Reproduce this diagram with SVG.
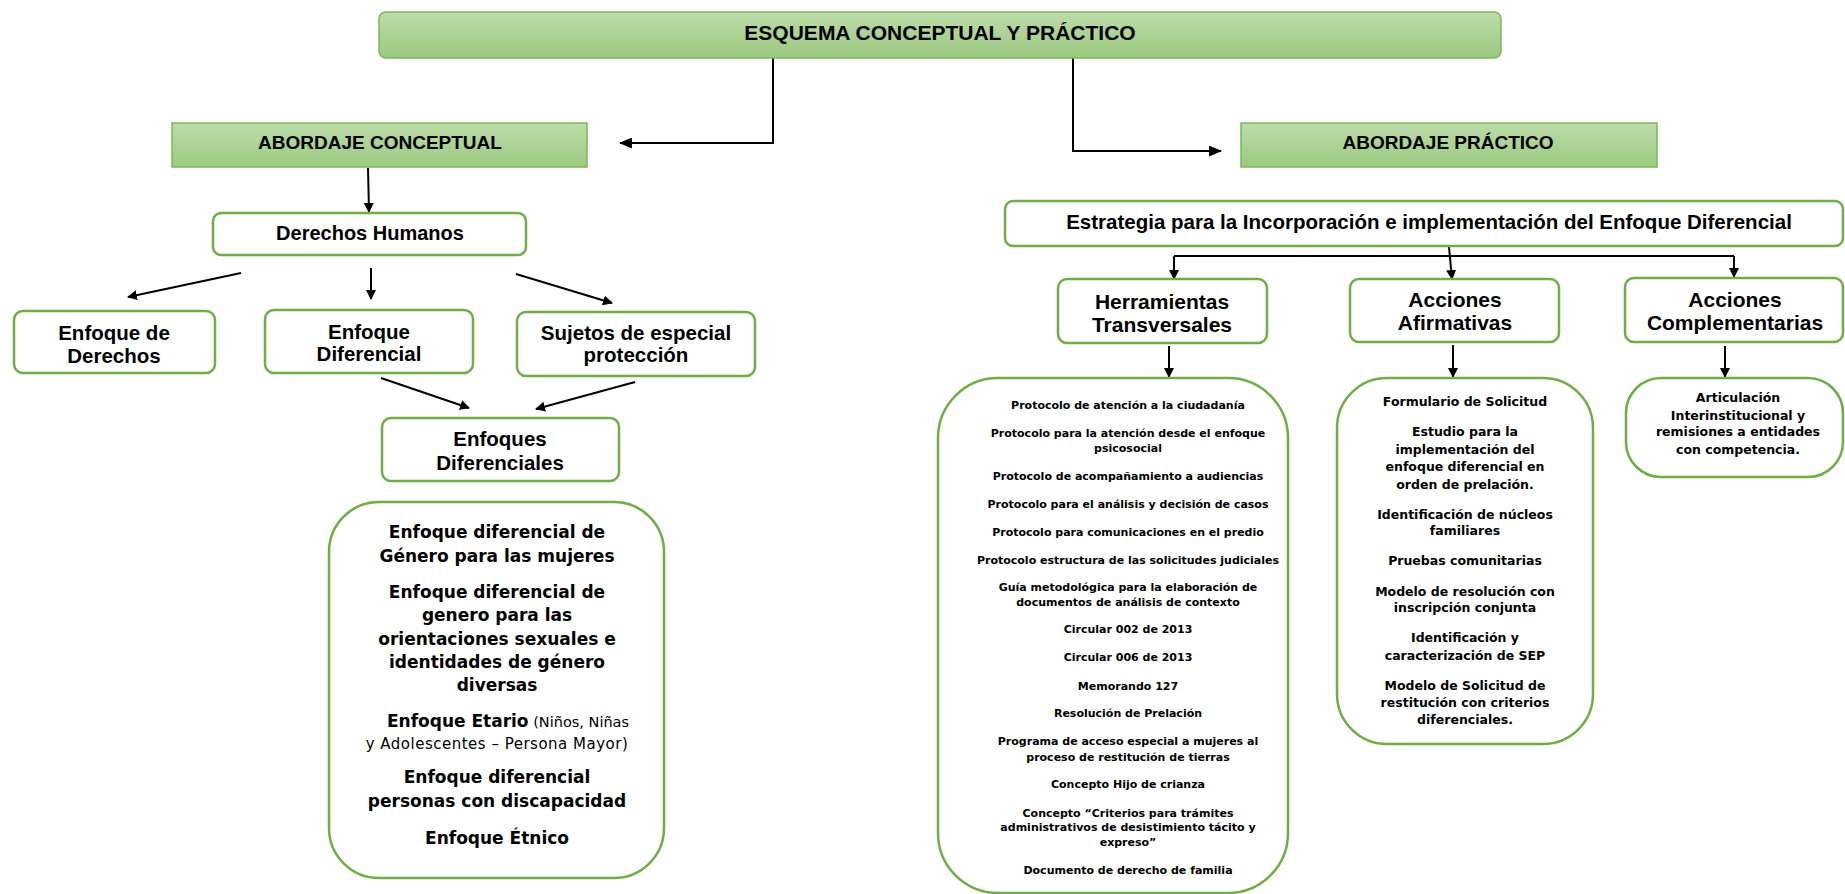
<svg xmlns="http://www.w3.org/2000/svg" width="1845" height="894" viewBox="0 0 1845 894">
<defs>
<linearGradient id="hg" x1="0" y1="0" x2="0" y2="1">
<stop offset="0" stop-color="#bedcaa"/>
<stop offset="1" stop-color="#9bc97f"/>
</linearGradient>
<marker id="ah" viewBox="0 0 10 10" refX="9" refY="5" markerWidth="10" markerHeight="10" markerUnits="userSpaceOnUse" orient="auto">
<path d="M0,0 L10,5 L0,10 z" fill="#000"/>
</marker>
<marker id="ahl" viewBox="0 0 12 10" refX="11" refY="5" markerWidth="13" markerHeight="11" markerUnits="userSpaceOnUse" orient="auto">
<path d="M0,0 L12,5 L0,10 z" fill="#000"/>
</marker>
</defs>
<style>
.hdr{fill:url(#hg);stroke:#7ab858;stroke-width:1.5}
.box{fill:#fff;stroke:#70ad47;stroke-width:2.5}
.h{font-family:"Liberation Sans",Arial,sans-serif;font-weight:bold;fill:#000;text-anchor:middle}
.b{font-family:"DejaVu Sans",Verdana,sans-serif;font-weight:bold;fill:#000;text-anchor:middle}
.r{font-family:"DejaVu Sans",Verdana,sans-serif;font-weight:normal}
.c{fill:none;stroke:#000;stroke-width:2}
.ca{fill:none;stroke:#000;stroke-width:2;marker-end:url(#ah)}
.cl{fill:none;stroke:#000;stroke-width:2;marker-end:url(#ahl)}
</style>
<rect width="1845" height="894" fill="#fff"/>

<g id="connectors">
<polyline class="cl" points="773,58 773,143 620,143"/>
<polyline class="cl" points="1073,58 1073,151 1221,151"/>
<line class="ca" x1="368" y1="168" x2="369" y2="212"/>
<line class="ca" x1="241" y1="273" x2="128" y2="297"/>
<line class="ca" x1="371" y1="268" x2="371" y2="299"/>
<line class="ca" x1="516" y1="274" x2="612" y2="303"/>
<line class="ca" x1="381" y1="378" x2="469" y2="408"/>
<line class="ca" x1="635" y1="382" x2="536" y2="409"/>
<line class="ca" x1="1449" y1="247" x2="1452" y2="279"/>
<polyline class="c" points="1174,256 1734,256"/>
<line class="ca" x1="1174" y1="256" x2="1174" y2="279"/>
<line class="ca" x1="1734" y1="256" x2="1734" y2="277"/>
<line class="ca" x1="1169" y1="346" x2="1169" y2="377"/>
<line class="ca" x1="1453" y1="345" x2="1453" y2="377"/>
<line class="ca" x1="1725" y1="346" x2="1725" y2="377"/>
</g>

<g id="esquema">
<rect class="hdr" x="379" y="12" width="1122" height="46" rx="7"/>
<text class="h" x="940" y="40" font-size="21">ESQUEMA CONCEPTUAL Y PRÁCTICO</text>
</g>

<g id="abordaje-conceptual">
<rect class="hdr" x="172" y="123" width="415" height="44"/>
<text class="h" x="380" y="149" font-size="19">ABORDAJE CONCEPTUAL</text>
</g>

<g id="abordaje-practico">
<rect class="hdr" x="1241" y="123" width="416" height="44"/>
<text class="h" x="1448" y="149" font-size="19">ABORDAJE PRÁCTICO</text>
</g>

<g id="derechos-humanos">
<rect class="box" x="213" y="213" width="313" height="42" rx="8"/>
<text class="h" x="370" y="240" font-size="20">Derechos Humanos</text>
</g>

<g id="enfoque-derechos">
<rect class="box" x="14" y="311" width="201" height="62" rx="9"/>
<text class="h" x="114" y="340" font-size="20.5">Enfoque de</text>
<text class="h" x="114" y="363" font-size="20.5">Derechos</text>
</g>

<g id="enfoque-diferencial">
<rect class="box" x="265" y="310" width="208" height="63" rx="9"/>
<text class="h" x="369" y="339" font-size="20.5">Enfoque</text>
<text class="h" x="369" y="361" font-size="20.5">Diferencial</text>
</g>

<g id="sujetos">
<rect class="box" x="517" y="312" width="238" height="64" rx="9"/>
<text class="h" x="636" y="340" font-size="20.5">Sujetos de especial</text>
<text class="h" x="636" y="362" font-size="20.5">protección</text>
</g>

<g id="enfoques-diferenciales">
<rect class="box" x="382" y="418" width="237" height="63" rx="9"/>
<text class="h" x="500" y="446" font-size="20.5">Enfoques</text>
<text class="h" x="500" y="470" font-size="20.5">Diferenciales</text>
</g>

<g id="lista-enfoques">
<rect class="box" x="329" y="502" width="335" height="376" rx="50"/>
<text class="b" x="497" y="538" font-size="17">Enfoque diferencial de</text>
<text class="b" x="497" y="562" font-size="17">Género para las mujeres</text>
<text class="b" x="497" y="598" font-size="17">Enfoque diferencial de</text>
<text class="b" x="497" y="621" font-size="17">genero para las</text>
<text class="b" x="497" y="645" font-size="17">orientaciones sexuales e</text>
<text class="b" x="497" y="668" font-size="17">identidades de género</text>
<text class="b" x="497" y="691" font-size="17">diversas</text>
<text class="b" x="508" y="727" font-size="17">Enfoque Etario<tspan class="r" font-size="14.5"> (Niños, Niñas</tspan></text>
<text class="b r" x="497" y="749" font-size="15" letter-spacing="0.5">y Adolescentes – Persona Mayor)</text>
<text class="b" x="497" y="783" font-size="17">Enfoque diferencial</text>
<text class="b" x="497" y="807" font-size="17">personas con discapacidad</text>
<text class="b" x="497" y="844" font-size="17">Enfoque Étnico</text>
</g>

<g id="estrategia">
<rect class="box" x="1005" y="201" width="838" height="45" rx="8"/>
<text class="h" x="1429" y="229" font-size="20.5">Estrategia para la Incorporación e implementación del Enfoque Diferencial</text>
</g>

<g id="herramientas">
<rect class="box" x="1058" y="279" width="209" height="64" rx="9"/>
<text class="h" x="1162" y="309" font-size="21">Herramientas</text>
<text class="h" x="1162" y="332" font-size="21">Transversales</text>
</g>

<g id="afirmativas">
<rect class="box" x="1350" y="279" width="209" height="63" rx="9"/>
<text class="h" x="1455" y="307" font-size="21">Acciones</text>
<text class="h" x="1455" y="330" font-size="21">Afirmativas</text>
</g>

<g id="complementarias">
<rect class="box" x="1625" y="278" width="218" height="64" rx="9"/>
<text class="h" x="1735" y="307" font-size="21">Acciones</text>
<text class="h" x="1735" y="330" font-size="21">Complementarias</text>
</g>

<g id="lista-herramientas">
<rect class="box" x="938" y="378" width="350" height="515" rx="60"/>
<text class="b" x="1128" y="409" font-size="11">Protocolo de atención a la ciudadanía</text>
<text class="b" x="1128" y="437" font-size="11">Protocolo para la atención desde el enfoque</text>
<text class="b" x="1128" y="452" font-size="11">psicosocial</text>
<text class="b" x="1128" y="480" font-size="11">Protocolo de acompañamiento a audiencias</text>
<text class="b" x="1128" y="508" font-size="11">Protocolo para el análisis y decisión de casos</text>
<text class="b" x="1128" y="536" font-size="11">Protocolo para comunicaciones en el predio</text>
<text class="b" x="1128" y="564" font-size="11">Protocolo estructura de las solicitudes judiciales</text>
<text class="b" x="1128" y="591" font-size="11">Guía metodológica para la elaboración de</text>
<text class="b" x="1128" y="606" font-size="11">documentos de análisis de contexto</text>
<text class="b" x="1128" y="633" font-size="11">Circular 002 de 2013</text>
<text class="b" x="1128" y="661" font-size="11">Circular 006 de 2013</text>
<text class="b" x="1128" y="690" font-size="11">Memorando 127</text>
<text class="b" x="1128" y="717" font-size="11">Resolución de Prelación</text>
<text class="b" x="1128" y="745" font-size="11">Programa de acceso especial a mujeres al</text>
<text class="b" x="1128" y="761" font-size="11">proceso de restitución de tierras</text>
<text class="b" x="1128" y="788" font-size="11">Concepto Hijo de crianza</text>
<text class="b" x="1128" y="817" font-size="11">Concepto “Criterios para trámites</text>
<text class="b" x="1128" y="831" font-size="11">administrativos de desistimiento tácito y</text>
<text class="b" x="1128" y="846" font-size="11">expreso”</text>
<text class="b" x="1128" y="874" font-size="11">Documento de derecho de familia</text>
</g>

<g id="lista-afirmativas">
<rect class="box" x="1337" y="378" width="256" height="366" rx="50"/>
<text class="b" x="1465" y="406" font-size="12.5">Formulario de Solicitud</text>
<text class="b" x="1465" y="436" font-size="12.5">Estudio para la</text>
<text class="b" x="1465" y="454" font-size="12.5">implementación del</text>
<text class="b" x="1465" y="471" font-size="12.5">enfoque diferencial en</text>
<text class="b" x="1465" y="489" font-size="12.5">orden de prelación.</text>
<text class="b" x="1465" y="519" font-size="12.5">Identificación de núcleos</text>
<text class="b" x="1465" y="535" font-size="12.5">familiares</text>
<text class="b" x="1465" y="565" font-size="12.5">Pruebas comunitarias</text>
<text class="b" x="1465" y="596" font-size="12.5">Modelo de resolución con</text>
<text class="b" x="1465" y="612" font-size="12.5">inscripción conjunta</text>
<text class="b" x="1465" y="642" font-size="12.5">Identificación y</text>
<text class="b" x="1465" y="660" font-size="12.5">caracterización de SEP</text>
<text class="b" x="1465" y="690" font-size="12.5">Modelo de Solicitud de</text>
<text class="b" x="1465" y="707" font-size="12.5">restitución con criterios</text>
<text class="b" x="1465" y="724" font-size="12.5">diferenciales.</text>
</g>

<g id="lista-complementarias">
<rect class="box" x="1626" y="378" width="217" height="99" rx="35"/>
<text class="b" x="1738" y="402" font-size="12.5">Articulación</text>
<text class="b" x="1738" y="420" font-size="12.5">Interinstitucional y</text>
<text class="b" x="1738" y="436" font-size="12.5">remisiones a entidades</text>
<text class="b" x="1738" y="454" font-size="12.5">con competencia.</text>
</g>
</svg>
